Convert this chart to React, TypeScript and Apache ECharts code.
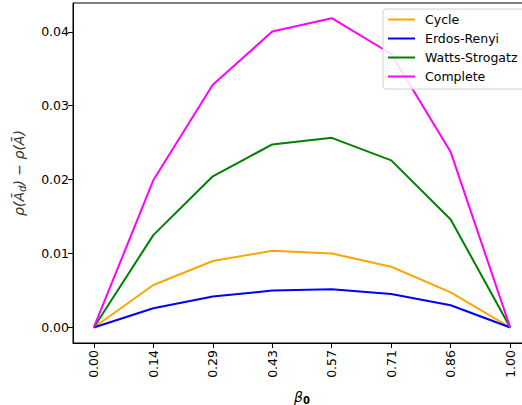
import React, { useEffect, useRef } from "react";
import * as echarts from "echarts";

const betaLabels = ["0.00", "0.14", "0.29", "0.43", "0.57", "0.71", "0.86", "1.00"];
const yTicks = [0, 0.01, 0.02, 0.03, 0.04];
const cycle = [0, 0.00575, 0.00899, 0.01038, 0.01002, 0.00822, 0.00476, 0];
const erdosRenyi = [0, 0.00261, 0.00418, 0.00499, 0.00517, 0.00454, 0.00301, 0];
const wattsStrogatz = [0, 0.01249, 0.02045, 0.02476, 0.02566, 0.02261, 0.01461, 0];
const complete = [0, 0.01991, 0.03285, 0.04004, 0.04184, 0.0370, 0.02373, 0];

const seriesDefs = [
  { name: "Cycle", data: cycle, color: "#FFA500" },
  { name: "Erdos-Renyi", data: erdosRenyi, color: "#0000FF" },
  { name: "Watts-Strogatz", data: wattsStrogatz, color: "#008000" },
  { name: "Complete", data: complete, color: "#FF00FF" },
];

const FONT = "DejaVu Sans";

export default function App() {
  const ref = useRef<HTMLDivElement>(null);
  useEffect(() => {
    if (!ref.current) return;
    const chart = echarts.init(ref.current, undefined, { renderer: "svg" });
    const idx = betaLabels.map((_, i) => i);
    chart.setOption({
      animation: false,
      backgroundColor: "#ffffff",
      textStyle: { fontFamily: FONT },
      grid: {
        left: 73,
        top: 3,
        right: -9,
        bottom: 62,
        containLabel: false,
        outerBoundsMode: "none",
        show: true,
        borderColor: "#000",
        borderWidth: 1,
        backgroundColor: "#fff",
      },
      legend: {
        orient: "vertical",
        left: 383,
        top: 9,
        padding: [4, 20, 6, 5],
        itemGap: 6,
        itemWidth: 27,
        itemHeight: 2,
        icon: "rect",
        backgroundColor: "rgba(255,255,255,0.85)",
        borderColor: "#d0d0d0",
        borderWidth: 1,
        borderRadius: 3,
        textStyle: { fontFamily: FONT, fontSize: 12.5, color: "#000", padding: [0, 0, 0, 5] },
        data: seriesDefs.map((s) => s.name),
      },
      xAxis: {
        type: "value",
        min: -0.35,
        max: 7.35,
        splitLine: { show: false },
        axisLine: { show: true, onZero: false, lineStyle: { color: "#000", width: 1 } },
        axisTick: { show: true, customValues: idx, length: 5, lineStyle: { color: "#000" } },
        axisLabel: {
          customValues: idx,
          rotate: 90,
          margin: 7,
          fontSize: 12.5,
          color: "#000",
          fontFamily: FONT,
          formatter: (v: number) => betaLabels[Math.round(v)] ?? "",
        },
        name: "{b|β}{s|0}",
        nameLocation: "middle",
        nameGap: 46,
        nameTextStyle: {
          rich: {
            b: { fontFamily: FONT, fontStyle: "italic", fontSize: 14, color: "#000" },
            s: { fontFamily: FONT, fontWeight: "bold", fontSize: 10, color: "#000", padding: [6, 0, 0, 0] },
          },
        },
      },
      yAxis: {
        type: "value",
        min: -0.0021,
        max: 0.0439,
        splitLine: { show: false },
        axisLine: { show: true, onZero: false, lineStyle: { color: "#000", width: 1 } },
        axisTick: { show: true, customValues: yTicks, length: 5, lineStyle: { color: "#000" } },
        axisLabel: {
          customValues: yTicks,
          margin: 4,
          fontSize: 12.5,
          color: "#000",
          fontFamily: FONT,
          formatter: (v: number) => v.toFixed(2),
        },
        name: "{a|ρ(Ā}{s|d}{a|) − ρ(Ā)}",
        nameLocation: "middle",
        nameRotate: 90,
        nameGap: 46,
        nameTextStyle: {
          rich: {
            a: { fontFamily: FONT, fontStyle: "italic", fontSize: 14, color: "#333" },
            s: { fontFamily: FONT, fontStyle: "italic", fontSize: 10, color: "#333", padding: [6, 0, 0, 0] },
          },
        },
      },
      series: seriesDefs.map((s) => ({
        name: s.name,
        type: "line",
        data: s.data.map((v, i) => [idx[i], v]),
        showSymbol: false,
        symbol: "none",
        lineStyle: { color: s.color, width: 2 },
        itemStyle: { color: s.color },
        z: 2,
      })),
    });
    return () => chart.dispose();
  }, []);
  return (
    <div
      ref={ref}
      style={{ position: "fixed", left: 0, top: 0, width: 522, height: 405 }}
    />
  );
}
